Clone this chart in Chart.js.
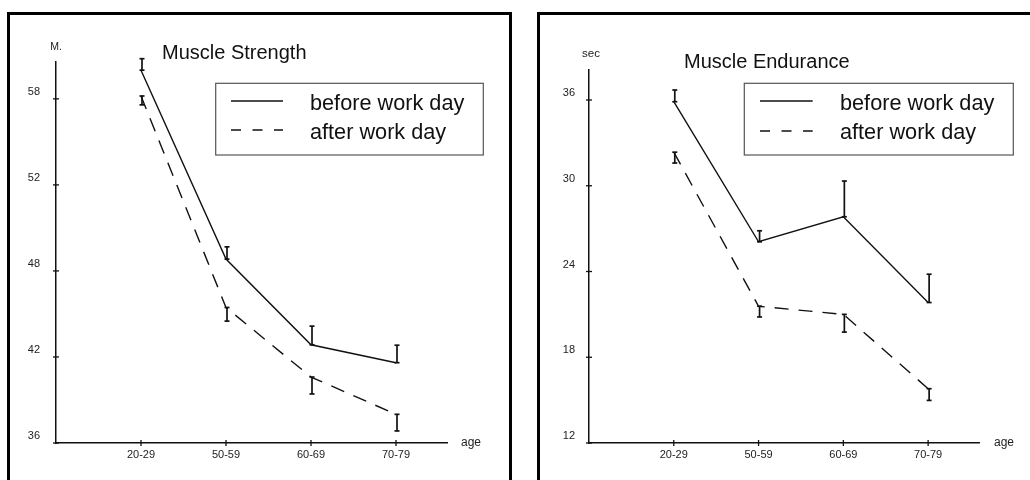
<!DOCTYPE html>
<html>
<head>
<meta charset="utf-8">
<script src="https://cdn.jsdelivr.net/npm/chart.js@4.4.1/dist/chart.umd.min.js"></script>
<style>
  html, body { margin: 0; padding: 0; background: #fff; overflow: hidden; width: 1030px; height: 480px; }
  .panel { position: absolute; top: 12px; width: 499px; height: 470px; border: 3px solid #000; background: #fff; }
  #p1 { left: 7px; }
  #p2 { left: 537px; }
  canvas { display: block; }
</style>
</head>
<body>
<div class="panel" id="p1"><canvas id="c1" width="499" height="470"></canvas></div>
<div class="panel" id="p2"><canvas id="c2" width="499" height="470"></canvas></div>
<script>
// ---- data ----
const ageGroups = ['20-29', '50-59', '60-69', '70-79'];
const seriesNames = ['before work day', 'after work day'];

// Muscle strength (M.) — axis ticks as printed on the original scale
const strengthTicks = [36, 42, 48, 52, 58];
const strengthBefore = [60.0, 48.55, 42.85, 41.6];
const strengthBeforeSD = [0.8, 0.57, 1.3, 1.22];
const strengthAfter = [58.2, 45.45, 40.6, 38.0];
const strengthAfterSD = [0.62, 0.95, 1.18, 1.16];

// Muscle endurance (sec)
const enduranceTicks = [12, 18, 24, 30, 36];
const enduranceBefore = [35.88, 26.08, 27.83, 21.83];
const enduranceBeforeSD = [0.82, 0.77, 2.5, 1.98];
const enduranceAfter = [32.35, 21.57, 21.0, 15.8];
const enduranceAfterSD = [0.76, 0.75, 1.24, 0.82];

const FONT = "'Liberation Sans', Arial, Helvetica, sans-serif";
Chart.defaults.font.family = FONT;
Chart.defaults.color = '#222';

// Value axis whose printed ticks are spaced evenly, interpolating linearly
// between neighbouring ticks (and extrapolating past the last one).
class SteppedAxis extends Chart.LinearScale {
  get stops() { return this.options.stops; }
  toUnit(v) {
    const s = this.stops, n = s.length;
    if (v <= s[0]) return (v - s[0]) / (s[1] - s[0]);
    for (let i = 1; i < n; i++) {
      if (v <= s[i]) return i - 1 + (v - s[i - 1]) / (s[i] - s[i - 1]);
    }
    return n - 1 + (v - s[n - 1]) / (s[n - 1] - s[n - 2]);
  }
  fromUnit(u) {
    const s = this.stops, n = s.length;
    if (u <= 0) return s[0] + u * (s[1] - s[0]);
    if (u >= n - 1) return s[n - 1] + (u - (n - 1)) * (s[n - 1] - s[n - 2]);
    const i = Math.floor(u);
    return s[i] + (u - i) * (s[i + 1] - s[i]);
  }
  buildTicks() {
    return this.stops.map(v => ({ value: v }));
  }
  getPixelForValue(v) {
    const u0 = this.toUnit(this.min), u1 = this.toUnit(this.max);
    return this.getPixelForDecimal((this.toUnit(v) - u0) / (u1 - u0));
  }
  getValueForPixel(p) {
    const u0 = this.toUnit(this.min), u1 = this.toUnit(this.max);
    return this.fromUnit(u0 + this.getDecimalForPixel(p) * (u1 - u0));
  }
}
SteppedAxis.id = 'stepped';
SteppedAxis.defaults = Chart.LinearScale.defaults;
Chart.register(SteppedAxis);

function line(ctx, x0, y0, x1, y1) {
  ctx.beginPath(); ctx.moveTo(x0, y0); ctx.lineTo(x1, y1); ctx.stroke();
}

// Axis tick marks, error bars, title, unit labels and the boxed legend
function panelArt(look) {
  return {
    id: 'panelArt',
    afterDatasetsDraw(chart) {
      const ctx = chart.ctx, xs = chart.scales.x, ys = chart.scales.y, area = chart.chartArea;
      ctx.save();
      ctx.strokeStyle = '#111';
      ctx.lineWidth = 1.3;
      ys.ticks.forEach(t => {
        const py = ys.getPixelForValue(t.value);
        line(ctx, area.left - 3, py, area.left + 3, py);
      });
      xs.ticks.forEach(t => {
        const px = xs.getPixelForValue(t.value);
        line(ctx, px, area.bottom - 3, px, area.bottom + 3);
      });

      // error bars: "before" extends upward, "after" downward
      ctx.lineWidth = 1.7;
      chart.data.datasets.forEach(d => {
        d.data.forEach((p, i) => {
          const px = xs.getPixelForValue(p.x) + 1;
          const a = ys.getPixelForValue(p.y);
          const b = ys.getPixelForValue(p.y + d.errDir * d.err[i]);
          line(ctx, px, a, px, b);
          line(ctx, px - 2.5, b, px + 2.5, b);
          line(ctx, px - 2.5, a, px + 2.5, a);
        });
      });

      // title
      ctx.fillStyle = '#111';
      ctx.textBaseline = 'alphabetic';
      ctx.textAlign = 'left';
      ctx.font = '20px ' + FONT;
      ctx.fillText(look.title, look.titleX, look.titleY);

      // unit labels
      ctx.fillStyle = '#222';
      ctx.textAlign = 'center';
      ctx.font = look.unitSize + 'px ' + FONT;
      ctx.fillText(look.unit, look.unitX, look.unitY);
      ctx.textAlign = 'left';
      ctx.font = '12px ' + FONT;
      ctx.fillText('age', look.ageX, look.ageY);

      // legend
      const lg = look.legend;
      ctx.strokeStyle = '#555';
      ctx.lineWidth = 1.2;
      ctx.strokeRect(lg.x, lg.y, lg.w, lg.h);
      ctx.strokeStyle = '#111';
      ctx.lineWidth = 1.5;
      ctx.fillStyle = '#111';
      ctx.font = '21.7px ' + FONT;
      chart.data.datasets.forEach((d, i) => {
        ctx.setLineDash(i === 0 ? [] : [10, 11.5]);
        line(ctx, lg.lineX0, lg.rows[i], lg.lineX1, lg.rows[i]);
        ctx.setLineDash([]);
        ctx.fillText(d.label, lg.textX, lg.baselines[i]);
      });
      ctx.restore();
    }
  };
}

function drawPanel(canvasId, series, ticks, yMax, look) {
  const datasets = [
    {
      label: seriesNames[0],
      data: series.before.map((v, i) => ({ x: i + 1, y: v })),
      err: series.beforeSD, errDir: 1,
      borderDash: []
    },
    {
      label: seriesNames[1],
      data: series.after.map((v, i) => ({ x: i + 1, y: v })),
      err: series.afterSD, errDir: -1,
      borderDash: [14, 10]
    }
  ].map(d => Object.assign(d, {
    borderColor: '#111', borderWidth: 1.4, pointRadius: 0, tension: 0, fill: false, clip: false
  }));

  new Chart(document.getElementById(canvasId), {
    type: 'line',
    data: { datasets },
    options: {
      responsive: false,
      animation: false,
      devicePixelRatio: 1,
      events: [],
      layout: { padding: { top: look.padTop, right: look.padRight, bottom: 0, left: 0 } },
      plugins: { legend: { display: false }, tooltip: { enabled: false }, title: { display: false } },
      scales: {
        x: {
          type: 'linear',
          min: 0, max: 4.6,
          bounds: 'data',
          grid: { display: false, drawTicks: false },
          border: { display: true, color: '#111', width: 1.5 },
          afterBuildTicks: s => { s.ticks = ageGroups.map((_, i) => ({ value: i + 1 })); },
          ticks: {
            autoSkip: false, maxRotation: 0, padding: 5,
            font: { size: 11 }, color: '#222',
            callback: v => ageGroups[v - 1]
          },
          afterFit: s => { s.height = 42; }
        },
        y: {
          type: 'stepped',
          stops: ticks,
          min: ticks[0], max: yMax,
          grid: { display: false, drawTicks: false },
          border: { display: true, color: '#111', width: 1.5 },
          ticks: {
            autoSkip: false, padding: look.yLabelPad, labelOffset: -7,
            font: { size: 11 }, color: '#222',
            callback: v => String(v)
          },
          afterFit: s => { s.width = look.yWidth; }
        }
      }
    },
    plugins: [panelArt(look)]
  });
}

drawPanel('c1',
  { before: strengthBefore, beforeSD: strengthBeforeSD, after: strengthAfter, afterSD: strengthAfterSD },
  strengthTicks, 60.57,
  {
    padTop: 47, padRight: 62, yWidth: 46, yLabelPad: 16,
    title: 'Muscle Strength', titleX: 152, titleY: 43.5,
    unit: 'M.', unitX: 46, unitY: 35, unitSize: 10.5,
    ageX: 451, ageY: 431,
    legend: { x: 205.7, y: 68.3, w: 267.6, h: 71.7, lineX0: 221, lineX1: 273, textX: 300,
              rows: [86, 115], baselines: [94.5, 123.5] }
  });

drawPanel('c2',
  { before: enduranceBefore, beforeSD: enduranceBeforeSD, after: enduranceAfter, afterSD: enduranceAfterSD },
  enduranceTicks, 38.1,
  {
    padTop: 55, padRight: 60, yWidth: 49, yLabelPad: 14,
    title: 'Muscle Endurance', titleX: 144, titleY: 52.6,
    unit: 'sec', unitX: 51, unitY: 42.3, unitSize: 11.5,
    ageX: 454, ageY: 430.5,
    legend: { x: 204.3, y: 68.3, w: 269, h: 71.7, lineX0: 220, lineX1: 272.7, textX: 300,
              rows: [86, 116], baselines: [94.5, 123.5] }
  });
</script>
</body>
</html>
